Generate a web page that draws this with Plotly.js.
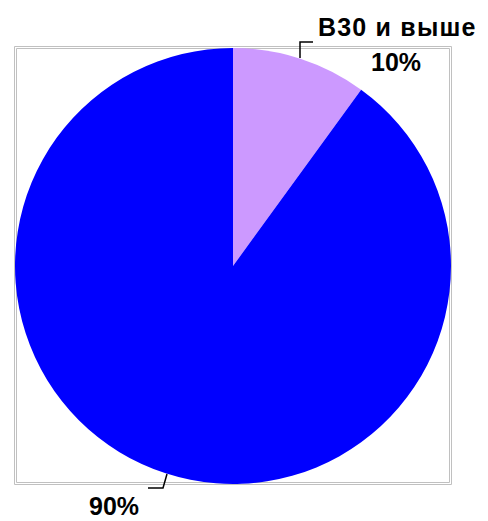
<!DOCTYPE html>
<html>
<head>
<meta charset="utf-8">
<script src="https://cdn.plot.ly/plotly-3.0.1.min.js"></script>
<style>
html,body{margin:0;padding:0;background:#fff;}
#chart{width:488px;height:521px;}
g.annotation[data-index="0"] text{letter-spacing:1.2px;}
</style>
</head>
<body>
<div id="chart"></div>
<script>
const categories = ["B30 и выше", "Прочие"];
const shares = [10, 90];
const sliceColors = ["#CC99FF", "#0000FF"];

const W = 488, H = 521;
const px = x => x / W;
const py = y => 1 - y / H;

const trace = {
  type: "pie",
  labels: categories,
  values: shares,
  sort: false,
  direction: "clockwise",
  rotation: 0,
  textinfo: "none",
  hoverinfo: "label+percent",
  marker: {colors: sliceColors, line: {width: 0}},
  domain: {x: [px(15), px(451)], y: [py(484), py(48)]},
  showlegend: false
};

const font = {family: "Liberation Sans, Arial, sans-serif", size: 25, color: "#000"};

const layout = {
  width: W, height: H,
  margin: {l: 0, r: 0, t: 0, b: 0},
  paper_bgcolor: "#fff",
  showlegend: false,
  shapes: [
    {type: "rect", xref: "paper", yref: "paper", x0: px(14.5), x1: px(451.5), y0: py(484.5), y1: py(46.5), line: {color: "#c0c0c0", width: 1}, layer: "below"},
    {type: "rect", xref: "paper", yref: "paper", x0: px(16.5), x1: px(449.5), y0: py(482.5), y1: py(48.5), line: {color: "#c0c0c0", width: 1}, layer: "below"},
    {type: "path", xref: "paper", yref: "paper",
     path: `M ${px(313)} ${py(42)} L ${px(300)} ${py(42)} L ${px(300)} ${py(58)}`,
     line: {color: "#000", width: 1.5}},
    {type: "path", xref: "paper", yref: "paper",
     path: `M ${px(148)} ${py(488)} L ${px(163)} ${py(488)} L ${px(167)} ${py(474)}`,
     line: {color: "#000", width: 1.5}}
  ],
  annotations: [
    {xref: "paper", yref: "paper", x: px(397), y: py(27), xanchor: "center", yanchor: "middle",
     text: "<b>" + categories[0] + "</b>", showarrow: false, font: font},
    {xref: "paper", yref: "paper", x: px(396), y: py(62), xanchor: "center", yanchor: "middle",
     text: "<b>" + shares[0] + "%</b>", showarrow: false, font: font},
    {xref: "paper", yref: "paper", x: px(114), y: py(506), xanchor: "center", yanchor: "middle",
     text: "<b>" + shares[1] + "%</b>", showarrow: false, font: font}
  ]
};

Plotly.newPlot("chart", [trace], layout, {displayModeBar: false, staticPlot: true});
</script>
</body>
</html>
